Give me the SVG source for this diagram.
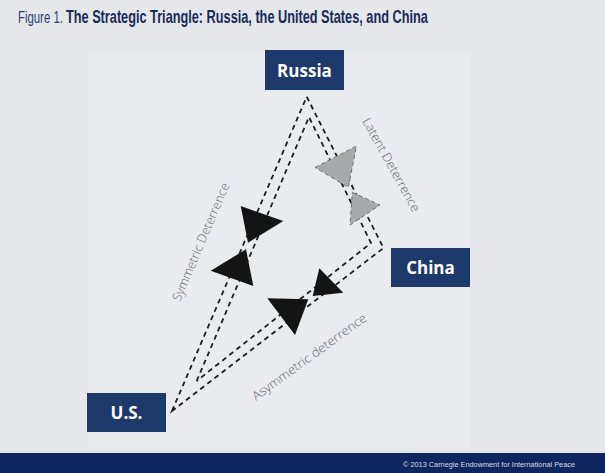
<svg xmlns="http://www.w3.org/2000/svg" width="605" height="473" viewBox="0 0 605 473">
<style>
.box{fill:#1d386b}
.bl{font-family:"Open Sans","DejaVu Sans",sans-serif;font-weight:700;font-size:17px;fill:#ffffff;text-anchor:middle}
.dash{fill:none;stroke:#1e1e1e;stroke-width:1.8;stroke-dasharray:5 4}
.blk{fill:#141414}
.gry{fill:#a7a9ab;stroke:#6f7173;stroke-width:1;stroke-dasharray:4 3}
.lab{font-family:"Open Sans","DejaVu Sans",sans-serif;font-weight:300;font-size:12.5px;fill:#67696e}
.tt{font-family:"Liberation Sans",Arial,sans-serif}
</style>
<rect x="0" y="0" width="605" height="473" fill="#e5e7ea"/>
<rect x="88" y="52" width="382" height="396" fill="#e9ebee"/>
<g id="title">
<text class="tt" transform="translate(18,23) scale(0.68,1)" font-size="17" fill="#2b3f6e" textLength="66" lengthAdjust="spacingAndGlyphs">Figure 1.</text>
<text class="tt" transform="translate(66,23) scale(0.725,1)" font-size="17.5" font-weight="700" fill="#1a2a5a" textLength="499" lengthAdjust="spacingAndGlyphs">The Strategic Triangle: Russia, the United States, and China</text>
</g>
<g id="connectors">
<path class="dash" d="M172,411 L306.7,96.7 L383.5,248 Z"/>
<path class="dash" d="M196.7,381 L309,117 L371,243 Z"/>
</g>
<g id="arrows">
<polygon class="blk" points="240.7,206 283.3,221 248,242.7"/>
<polygon class="blk" points="210.7,270.7 246,249.3 253.3,286"/>
<polygon class="blk" points="267.3,298.3 308.3,299.3 295,335"/>
<polygon class="blk" points="319.3,268.3 343.3,292.7 312.7,296"/>
<polygon class="gry" points="315,167.5 356.5,146 348.3,187.3"/>
<polygon class="gry" points="352.3,192.3 380,205 350,225"/>
</g>
<g id="labels">
<text class="lab" transform="translate(180,302) rotate(-67)" textLength="127" lengthAdjust="spacingAndGlyphs">Symmetric Deterrence</text>
<text class="lab" transform="translate(362,121) rotate(61)" textLength="105" lengthAdjust="spacingAndGlyphs">Latent Deterrence</text>
<text class="lab" transform="translate(256,401) rotate(-36)" textLength="138" lengthAdjust="spacingAndGlyphs">Asymmetric deterrence</text>
</g>
<g id="russia">
<rect class="box" x="265" y="50" width="79" height="40"/>
<text class="bl" x="304.5" y="76.5">Russia</text>
</g>
<g id="china">
<rect class="box" x="391" y="248" width="79" height="39"/>
<text class="bl" x="430.5" y="274">China</text>
</g>
<g id="us">
<rect class="box" x="87" y="393" width="79" height="39"/>
<text class="bl" x="126.5" y="419">U.S.</text>
</g>
<g id="footer">
<rect x="0" y="453" width="605" height="20" fill="#0e2660"/>
<text x="403" y="466.5" font-family="'Liberation Sans',Arial,sans-serif" font-size="8" fill="#d8dce6" textLength="172" lengthAdjust="spacingAndGlyphs">© 2013 Carnegie Endowment for International Peace</text>
</g>
</svg>
